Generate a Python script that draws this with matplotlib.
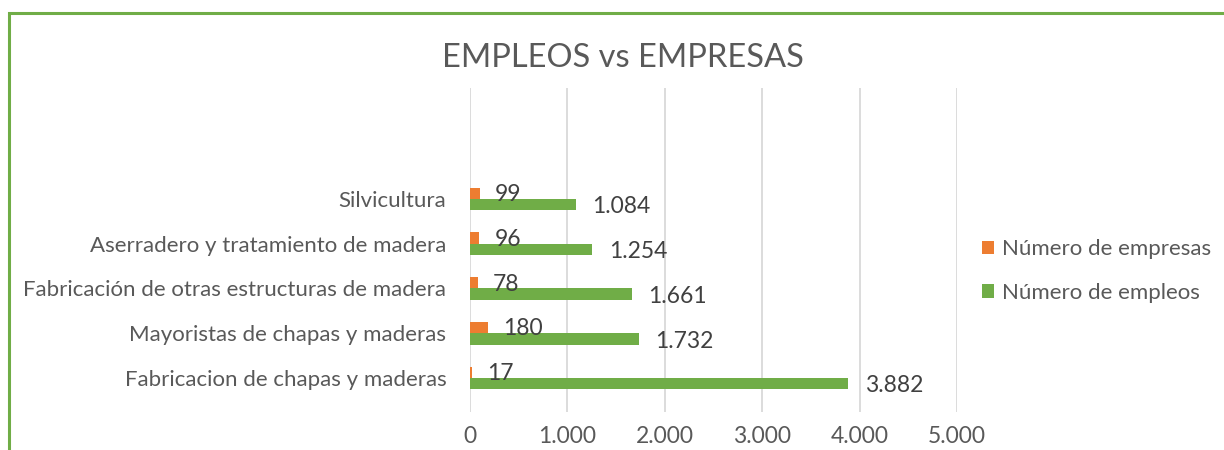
import matplotlib

matplotlib.use("Agg")
import matplotlib.pyplot as plt
from matplotlib.patches import Rectangle
import numpy as np

plt.rcParams["font.family"] = ["Lato", "DejaVu Sans"]

categorias = [
    "Fabricacion de chapas y maderas",
    "Mayoristas de chapas y maderas",
    "Fabricación de otras estructuras de madera",
    "Aserradero y tratamiento de madera",
    "Silvicultura",
]
empresas = [17, 180, 78, 96, 99]
empleos = [3882, 1732, 1661, 1254, 1084]
xticks = [0, 1000, 2000, 3000, 4000, 5000]

NARANJA = "#ED7D31"
VERDE = "#70AD47"
GRIS = "#595959"


def fmt(v):
    return f"{v:,}".replace(",", ".")


fig = plt.figure(figsize=(12.24, 4.5), dpi=100)
ax = fig.add_axes([470 / 1224, 1 - 412 / 450, 487 / 1224, 324 / 450])

y = np.arange(len(categorias))
h = 0.255
b_emp = ax.barh(y + h / 2, empresas, height=h, color=NARANJA, label="Número de empresas", zorder=3)
b_job = ax.barh(y - h / 2, empleos, height=h, color=VERDE, label="Número de empleos", zorder=3)

for bar, v in zip(b_emp, empresas):
    ax.annotate(fmt(v), (bar.get_width(), bar.get_y() + bar.get_height() / 2),
                xytext=(11, -1), textcoords="offset points", va="center", ha="left",
                fontsize=16.5, color="#404040")
for bar, v in zip(b_job, empleos):
    ax.annotate(fmt(v), (bar.get_width(), bar.get_y() + bar.get_height() / 2),
                xytext=(12, -1.5), textcoords="offset points", va="center", ha="left",
                fontsize=16.5, color="#404040")

ax.set_xlim(0, 5000)
ax.set_ylim(-0.76, 6.48)
ax.set_xticks(xticks)
ax.set_xticklabels([fmt(t) for t in xticks])
ax.set_yticks(y)
ax.set_yticklabels(categorias)
ax.tick_params(axis="both", length=0, labelcolor=GRIS)
ax.tick_params(axis="x", pad=10, labelsize=16.5)
ax.tick_params(axis="y", pad=17, labelsize=16)
ax.grid(axis="x", color="#D9D9D9", lw=1.3, zorder=0)
for s in ax.spines.values():
    s.set_visible(False)

fig.text(623 / 1224, 1 - 58 / 450, "EMPLEOS vs EMPRESAS", ha="center", va="center",
         fontsize=23.5, color=GRIS)

fig.legend(handles=[b_emp, b_job], loc="center left",
           bbox_to_anchor=(962 / 1224, 1 - 271 / 450), frameon=False,
           fontsize=16, labelcolor=GRIS, handlelength=0.55, handleheight=0.55,
           handletextpad=0.35, labelspacing=1.05)

# marco verde del gráfico (recortado a derecha y abajo)
fig.add_artist(Rectangle((9 / 1224, -0.1), 1.2, 1 - 13 / 450 + 0.1,
                         transform=fig.transFigure, fill=False,
                         edgecolor=VERDE, lw=2.2))

fig.savefig("out.png", dpi=100)
